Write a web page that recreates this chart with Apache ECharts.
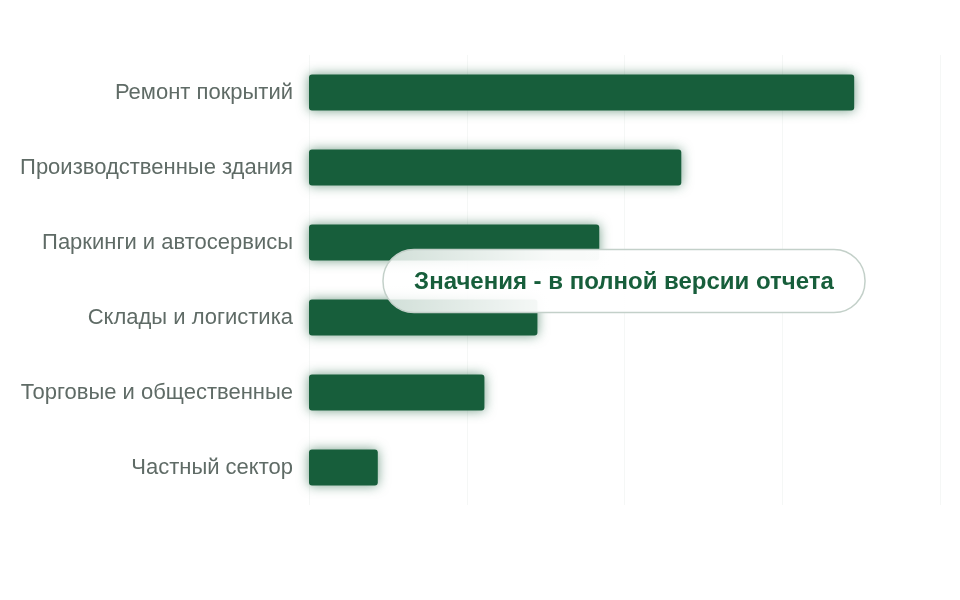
<!DOCTYPE html>
<html>
<head>
<meta charset="utf-8">
<script src="https://cdn.jsdelivr.net/npm/echarts@6/dist/echarts.min.js"></script>
<style>
  html, body { margin: 0; padding: 0; background: #fff; }
  #chart { width: 960px; height: 600px; }
</style>
</head>
<body>
<div id="chart"></div>
<script>
const categories = [
  "Ремонт покрытий",
  "Производственные здания",
  "Паркинги и автосервисы",
  "Склады и логистика",
  "Торговые и общественные",
  "Частный сектор"
];
const values = [86.4, 59, 46, 36.2, 27.8, 10.9];
const overlayText = "Значения - в полной версии отчета";

const chart = echarts.init(document.getElementById("chart"));

// плашка по центру области графика
const boxW = 482, boxH = 63;
const cx = 624, cy = 281;

chart.setOption({
  backgroundColor: "#ffffff",
  animation: false,
  grid: { left: 309, right: 20, top: 55, height: 450 },
  xAxis: {
    type: "value",
    min: 0,
    max: 100,
    interval: 25,
    axisLabel: { show: false },
    axisLine: { show: false },
    axisTick: { show: false },
    splitLine: { lineStyle: { color: "#f5f7f6", width: 1 } }
  },
  yAxis: {
    type: "category",
    inverse: true,
    data: categories,
    axisLine: { show: false },
    axisTick: { show: false },
    axisLabel: {
      color: "#5f6b66",
      fontSize: 22,
      fontFamily: "Liberation Sans, Arial, sans-serif",
      margin: 16,
      padding: [7, 0, 0, 0]
    }
  },
  series: [
    {
      type: "bar",
      data: values,
      barWidth: 36,
      itemStyle: {
        color: "#175e3b",
        borderRadius: 3,
        shadowBlur: 12,
        shadowColor: "rgba(23, 94, 59, 0.6)"
      },
      silent: true
    }
  ],
  graphic: [
    {
      type: "rect",
      shape: { x: cx - boxW / 2, y: cy - boxH / 2, width: boxW, height: boxH, r: 31 },
      style: {
        fill: new echarts.graphic.LinearGradient(0, 0, 1, 0, [
          { offset: 0, color: "rgba(255,255,255,0.8)" },
          { offset: 0.35, color: "rgba(255,255,255,0.97)" },
          { offset: 1, color: "rgba(255,255,255,1)" }
        ]),
        stroke: "#c3d0c9",
        lineWidth: 1.5
      },
      z: 100
    },
    {
      type: "text",
      style: {
        text: overlayText,
        x: cx,
        y: cy + 1,
        fill: "#175e3b",
        font: "bold 24px 'Liberation Sans', Arial, sans-serif",
        textAlign: "center",
        textVerticalAlign: "middle"
      },
      z: 101
    }
  ]
});

window.addEventListener("resize", () => chart.resize());
</script>
</body>
</html>
